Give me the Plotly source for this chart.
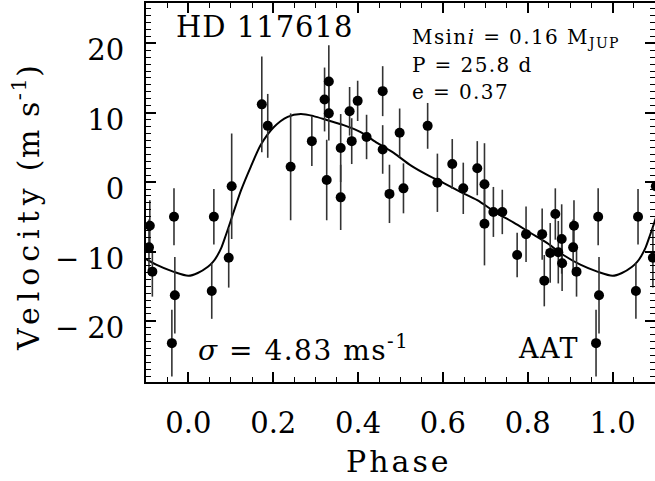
import plotly.graph_objects as go

# ---- data ----
phase = [0.055, 0.060, 0.095, 0.102, 0.173, 0.187, 0.241, 0.291, 0.321, 0.331,
         0.331, 0.326, 0.359, 0.359, 0.380, 0.385, 0.399, 0.420, 0.458, 0.458,
         0.474, 0.498, 0.507, 0.564, 0.587, 0.622, 0.648, 0.681, 0.698, 0.698,
         0.719, 0.740, 0.775, 0.796, 0.834, 0.839, 0.853, 0.865, 0.872, 0.880,
         0.881, 0.909, 0.907, 0.915, 0.966, 0.968, 0.961]
velocity = [-15.7, -5.0, -10.9, -0.6, 11.2, 8.1, 2.2, 5.9, 11.9, 14.5,
            9.9, 0.3, 4.9, -2.2, 10.2, 5.9, 11.7, 6.5, 13.1, 4.7,
            -1.7, 7.1, -0.9, 8.1, -0.1, 2.6, -0.9, 2.0, -0.3, -6.0,
            -4.3, -4.3, -10.5, -7.5, -7.5, -14.2, -10.2, -4.6, -10.1, -8.2,
            -11.7, -6.3, -9.4, -12.9, -5.0, -16.3, -23.2]
error = [4.0, 4.0, 4.3, 7.6, 6.9, 4.6, 7.7, 3.6, 4.6, 5.2,
         3.9, 5.8, 4.9, 4.7, 3.5, 3.3, 2.9, 3.2, 3.6, 3.5,
         4.2, 3.5, 3.6, 3.3, 4.2, 3.6, 3.7, 3.9, 5.9, 6.0,
         3.6, 3.2, 3.2, 4.0, 3.7, 3.7, 4.3, 3.7, 4.5, 5.0,
         4.0, 3.7, 4.0, 3.6, 4.1, 5.5, 4.8]

# orbital fit curve
curve_phase = [0.000, 0.022, 0.046, 0.058, 0.068, 0.078, 0.088, 0.098, 0.111, 0.124,
               0.147, 0.171, 0.201, 0.234, 0.265, 0.295, 0.328, 0.366, 0.406, 0.446,
               0.484, 0.524, 0.564, 0.601, 0.641, 0.681, 0.728, 0.766, 0.806, 0.846,
               0.884, 0.924, 0.964, 1.000]
curve_vel = [-13.5, -13.1, -12.2, -11.5, -10.6, -9.4, -7.7, -5.9, -3.5, -1.2,
             2.2, 5.4, 7.9, 9.4, 9.8, 9.5, 8.9, 8.2, 7.2, 5.6,
             4.2, 2.4, 1.0, -0.1, -1.4, -2.6, -4.5, -5.8, -7.3, -8.8,
             -10.5, -11.9, -12.9, -13.5]

x_tick_vals = [0.0, 0.2, 0.4, 0.6, 0.8, 1.0]
x_tick_text = ["0.0", "0.2", "0.4", "0.6", "0.8", "1.0"]
y_tick_vals = [-20, -10, 0, 10, 20]
y_tick_text = ["\u221220", "\u221210", "0", "10", "20"]

xmin, xmax = -0.1, 1.1
ymin, ymax = -28.8, 25.8

# repeat the phase-folded data one cycle either side, keep what falls in range
xs, ys, es = [], [], []
for shift in (-1, 0, 1):
    for p, v, e in zip(phase, velocity, error):
        q = p + shift
        if xmin - 0.01 <= q <= xmax + 0.003:
            xs.append(q); ys.append(v); es.append(e)

cx, cy = [], []
for shift in (-1, 0, 1):
    for p, v in zip(curve_phase, curve_vel):
        q = p + shift
        if xmin - 0.05 <= q <= xmax + 0.05:
            if cx and abs(q - cx[-1]) < 1e-9:
                continue
            cx.append(q); cy.append(v)

FONT = "DejaVu Serif"
NB = "\u00a0"

def spaced(t, px_):
    return f"<span style='letter-spacing:{px_}px'>{t}</span>"

# wider minus sign gap, as in the reference
y_tick_fmt = [spaced("\u2212", 8) + t[1:] if t.startswith("\u2212") else t
              for t in y_tick_text]

fig = go.Figure()
fig.add_trace(go.Scatter(x=cx, y=cy, mode="lines",
                         line=dict(color="black", width=2, shape="spline", smoothing=0.8),
                         hoverinfo="skip"))
fig.add_trace(go.Scatter(x=xs, y=ys, mode="markers",
                         marker=dict(size=10, color="black"),
                         error_y=dict(type="data", array=es, color="#333333",
                                      thickness=1.6, width=0)))

axis_common = dict(showgrid=False, zeroline=False, showline=True, linecolor="black",
                   linewidth=2, mirror="allticks", ticks="inside", tickcolor="black",
                   tickwidth=1.5, ticklen=10, automargin=False,
                   tickfont=dict(family=FONT, size=29, color="black"))

fig.update_xaxes(range=[xmin, xmax], tickmode="array",
                 tickvals=x_tick_vals, ticktext=x_tick_text,
                 minor=dict(dtick=0.05, tick0=0, ticks="inside", ticklen=5,
                            tickcolor="black", tickwidth=1.2),
                 ticklabelstandoff=14, **axis_common)
fig.update_yaxes(range=[ymin, ymax], tickmode="array",
                 tickvals=y_tick_vals, ticktext=y_tick_fmt,
                 minor=dict(dtick=1, tick0=0, ticks="inside", ticklen=5,
                            tickcolor="black", tickwidth=1.2),
                 ticklabelstandoff=14, ticklabelshift=7, **axis_common)

ann = []
def add(text, x, y, size, xanchor="left", angle=0):
    ann.append(dict(text=text, x=x, y=y, xref="paper", yref="paper",
                    xanchor=xanchor, yanchor="middle", showarrow=False,
                    textangle=angle, font=dict(family=FONT, size=size, color="black")))

L, R, T, B = 146, 655, 3, 382
def px(x): return (x - L) / (R - L)
def py(y): return (B - y) / (B - T)

add(spaced("HD 117618", 1), px(174), py(27), 29)
add(spaced(f"Msin<i>i</i>{NB}={NB}0.16{NB}M<sub>JUP</sub>", 1.4), px(410), py(38), 20)
add(spaced(f"P{NB}={NB}25.8{NB}d", 1.4), px(410), py(65), 20)
add(spaced(f"e{NB}={NB}0.37", 1.4), px(410), py(92), 20)
add(spaced(f"<i>σ</i>{NB}={NB}4.83{NB}ms<sup>-1</sup>", 1.5), px(196), py(348), 28)
add(spaced("AAT", 1.5), px(516), py(348), 27)
add(spaced("Phase", 3), px(399), py(461), 30, xanchor="center")
add(spaced("Velocity", 6) + spaced(f" (m s<sup>-1</sup>)", 1.5), px(26), py(207), 30,
    xanchor="center", angle=-90)

fig.update_layout(width=655, height=481, margin=dict(l=L, r=0, t=T, b=481 - B),
                  paper_bgcolor="white", plot_bgcolor="white", showlegend=False,
                  annotations=ann)

fig.write_html("out.html", config={"displayModeBar": False},
               post_script="document.body.style.margin='0';")
